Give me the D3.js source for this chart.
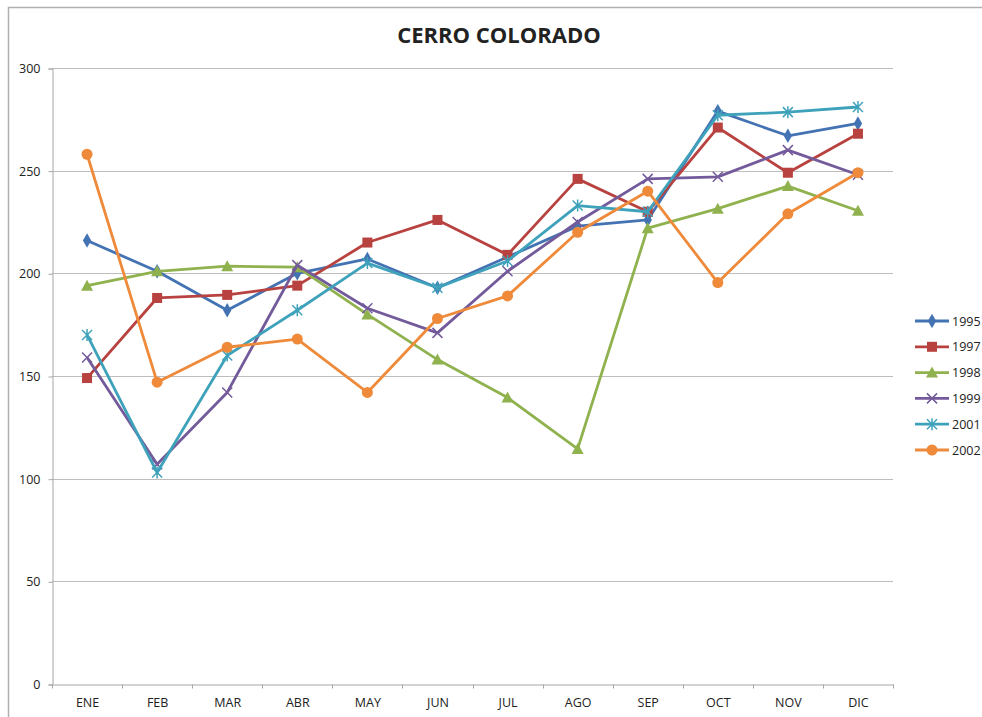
<!DOCTYPE html>
<html>
<head>
<meta charset="utf-8">
<script src="https://cdn.jsdelivr.net/npm/d3@7"></script>
<style>
  body { margin: 0; background: #fff; }
  text { font-family: "Open Sans", "Noto Sans", sans-serif; fill: #222; }
</style>
</head>
<body>
<div id="chart"></div>
<script>
// months on the x axis
const months = ["ENE", "FEB", "MAR", "ABR", "MAY", "JUN", "JUL", "AGO", "SEP", "OCT", "NOV", "DIC"];
const years = ["1995", "1997", "1998", "1999", "2001", "2002"];

// values
const v1995 = [216, 201, 182, 200, 207, 193, 208, 223, 226, 279, 267, 273];
const v1997 = [149, 188, 189.5, 194, 215, 226, 209, 246, 230, 271, 249, 268];
const v1998 = [194, 201, 203.5, 203, 180, 158, 139.5, 114.5, 222, 231.5, 242.5, 230.5];
const v1999 = [159, 107, 142, 204, 183, 171, 201, 225, 246, 247, 260, 248];
const v2001 = [170, 103, 160, 182, 205, 193, 206, 233, 230, 277, 278.5, 281];
const v2002 = [258, 147, 164, 168, 142, 178, 189, 220, 240, 195.5, 229, 249];

const yTicks = [0, 50, 100, 150, 200, 250, 300];

const seriesValues = [v1995, v1997, v1998, v1999, v2001, v2002];
const colors = ["#4473b3", "#b8423f", "#8fb24e", "#735a9a", "#3fa2bb", "#ee8a3a"];
const symbols = ["diamond", "square", "triangle", "cross", "asterisk", "circle"];

const width = 982, height = 717;
const margin = {top: 68, right: 89, bottom: 33, left: 52};

const svg = d3.select("#chart")
    .append("svg")
    .attr("width", width)
    .attr("height", height);

// outer frame (top and left edges visible)
svg.append("path")
    .attr("d", `M8.5,${height} V7.5 H${width}`)
    .attr("fill", "none")
    .attr("stroke", "#b0b0b0")
    .attr("stroke-width", 1.5);

const x = d3.scaleBand()
    .domain(months)
    .range([margin.left, width - margin.right]);

const y = d3.scaleLinear()
    .domain([0, 300])
    .range([height - margin.bottom, margin.top]);

// gridlines
svg.append("g")
    .selectAll("line")
    .data(yTicks.filter(d => d > 0))
    .join("line")
    .attr("x1", margin.left)
    .attr("x2", width - margin.right)
    .attr("y1", d => Math.round(y(d)) + 0.5)
    .attr("y2", d => Math.round(y(d)) + 0.5)
    .attr("stroke", "#bdbdbd")
    .attr("stroke-width", 1);

// y axis
const yAxis = svg.append("g")
    .attr("transform", `translate(${margin.left + 0.5},0.5)`)
    .call(d3.axisLeft(y).tickValues(yTicks).tickSize(4).tickPadding(8));
yAxis.selectAll("line, path").attr("stroke", "#a6a6a6");
yAxis.selectAll("text").style("font-size", "12.5px").attr("fill", "#222");

// x axis
const xAxis = svg.append("g")
    .attr("transform", `translate(0.5,${Math.round(y(0)) + 0.5})`)
    .call(d3.axisBottom(x).tickSize(0).tickPadding(14));
xAxis.select(".domain").attr("stroke", "#a6a6a6");
xAxis.selectAll("text").style("font-size", "12.5px").attr("fill", "#222");
// ticks at band boundaries
xAxis.append("g")
    .selectAll("line")
    .data(months.map(m => x(m)).concat([x.range()[1]]))
    .join("line")
    .attr("x1", d => Math.round(d))
    .attr("x2", d => Math.round(d))
    .attr("y1", 0)
    .attr("y2", 4)
    .attr("stroke", "#a6a6a6");

// title
svg.append("text")
    .attr("x", 499)
    .attr("y", 43)
    .attr("text-anchor", "middle")
    .style("font-size", "22px")
    .style("font-weight", "bold")
    .attr("fill", "#111")
    .text("CERRO COLORADO");

const line = d3.line()
    .x((d, i) => x(months[i]) + x.bandwidth() / 2)
    .y(d => y(d));

function drawMarker(g, type, color) {
    if (type === "diamond") {
        g.append("path").attr("d", d3.symbol(d3.symbolDiamond, 60)()).attr("fill", color);
    } else if (type === "square") {
        g.append("rect").attr("x", -5).attr("y", -5).attr("width", 10).attr("height", 10).attr("fill", color);
    } else if (type === "triangle") {
        g.append("path").attr("d", "M0,-6 L6,5 L-6,5 Z").attr("fill", color);
    } else if (type === "cross") {
        g.append("path").attr("d", "M-5,-5 L5,5 M-5,5 L5,-5").attr("stroke", color).attr("stroke-width", 1.5);
    } else if (type === "asterisk") {
        g.append("path").attr("d", "M-5,-5 L5,5 M-5,5 L5,-5 M0,-6 L0,6").attr("stroke", color).attr("stroke-width", 1.5);
    } else {
        g.append("circle").attr("r", 5.5).attr("fill", color);
    }
}

// series
seriesValues.forEach((vals, s) => {
    const g = svg.append("g");
    g.append("path")
        .datum(vals)
        .attr("fill", "none")
        .attr("stroke", colors[s])
        .attr("stroke-width", 2.8)
        .attr("stroke-linejoin", "round")
        .attr("d", line);
    g.selectAll("g")
        .data(vals)
        .join("g")
        .attr("transform", (d, i) => `translate(${x(months[i]) + x.bandwidth() / 2},${y(d)})`)
        .each(function () { drawMarker(d3.select(this), symbols[s], colors[s]); });
});

// legend
const legend = svg.append("g")
    .attr("transform", "translate(915,321)");
years.forEach((yr, i) => {
    const row = legend.append("g").attr("transform", `translate(0,${i * 25.8})`);
    row.append("line")
        .attr("x1", 0).attr("x2", 34)
        .attr("stroke", colors[i])
        .attr("stroke-width", 2.8);
    const m = row.append("g").attr("transform", "translate(17,0)");
    drawMarker(m, symbols[i], colors[i]);
    row.append("text")
        .attr("x", 37)
        .attr("y", 4.5)
        .style("font-size", "12.5px")
        .text(yr);
});
</script>
</body>
</html>
